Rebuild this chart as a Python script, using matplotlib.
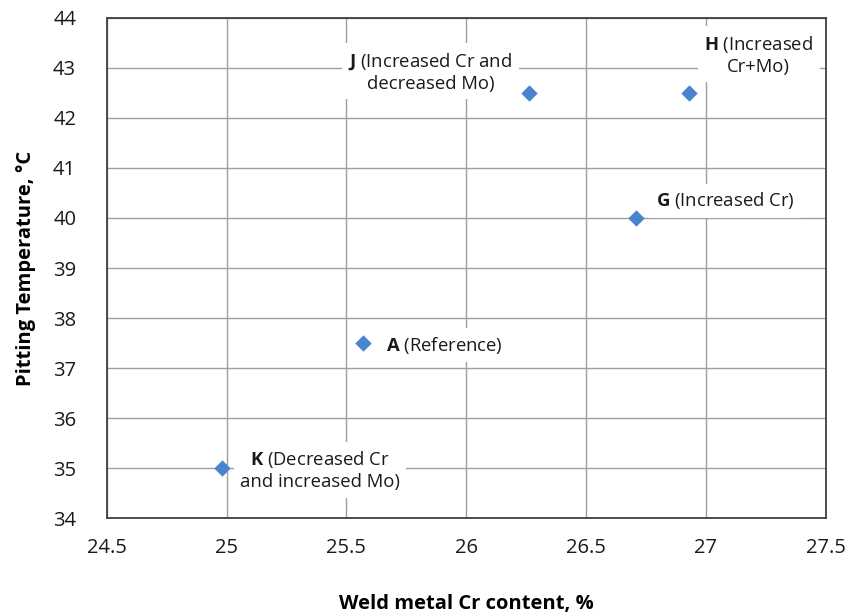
import matplotlib
matplotlib.use("Agg")
import matplotlib.pyplot as plt

plt.rcParams['font.family'] = ['Open Sans', 'DejaVu Sans']
plt.rcParams['mathtext.fontset'] = 'custom'
plt.rcParams['mathtext.bf'] = 'Open Sans:bold'
plt.rcParams['mathtext.rm'] = 'Open Sans'

# Data
names = ["K", "A", "J", "G", "H"]
descs = ["(Decreased Cr\nand increased Mo)", "(Reference)", "(Increased Cr and\ndecreased Mo)",
         "(Increased Cr)", "(Increased\nCr+Mo)"]
cr = [24.98, 25.57, 26.26, 26.71, 26.93]
temp = [35.0, 37.5, 42.5, 40.0, 42.5]
label_x = [25.39, 25.91, 25.85, 27.08, 27.22]
label_y = [34.96, 37.46, 42.92, 40.34, 43.26]
xticks = [24.5, 25, 25.5, 26, 26.5, 27, 27.5]
yticks = [34, 35, 36, 37, 38, 39, 40, 41, 42, 43, 44]

fig = plt.figure(figsize=(8.61, 6.14), dpi=100)
ax = fig.add_axes([0.124, 0.156, 0.835, 0.815])

ax.set_xlim(24.5, 27.5)
ax.set_ylim(34, 44)
ax.set_xticks(xticks)
ax.set_xticklabels([f"{v:g}" for v in xticks])
ax.set_yticks(yticks)
ax.grid(True, color='#a0a0a0', linewidth=1.0, zorder=0)
ax.set_axisbelow(True)
for s in ax.spines.values():
    s.set_color('#404040')
    s.set_linewidth(1.3)
ax.tick_params(length=0, labelsize=14.5, colors='#1a1a1a', pad=14)
ax.tick_params(axis='y', pad=22)

ax.scatter(cr, temp, marker='D', s=70, color='#4a84d0', zorder=4, linewidths=0)

for n, d, lx, ly in zip(names, descs, label_x, label_y):
    lines = d.split("\n")
    txt = r"$\mathbf{" + n + "}$ " + lines[0]
    if len(lines) > 1:
        txt += "\n" + lines[1]
    ax.text(lx, ly, txt, ha='center', va='center', fontsize=13.3, color='#1a1a1a',
            multialignment='center', linespacing=1.2, zorder=3,
            bbox=dict(facecolor='white', edgecolor='none', boxstyle='square,pad=0.35'))

ax.set_xlabel("Weld metal Cr content, %", fontsize=14.5, fontweight='bold', labelpad=26)
ax.set_ylabel("Pitting Temperature, °C", fontsize=14.5, fontweight='bold', labelpad=12)

fig.savefig("out.png", dpi=100)
